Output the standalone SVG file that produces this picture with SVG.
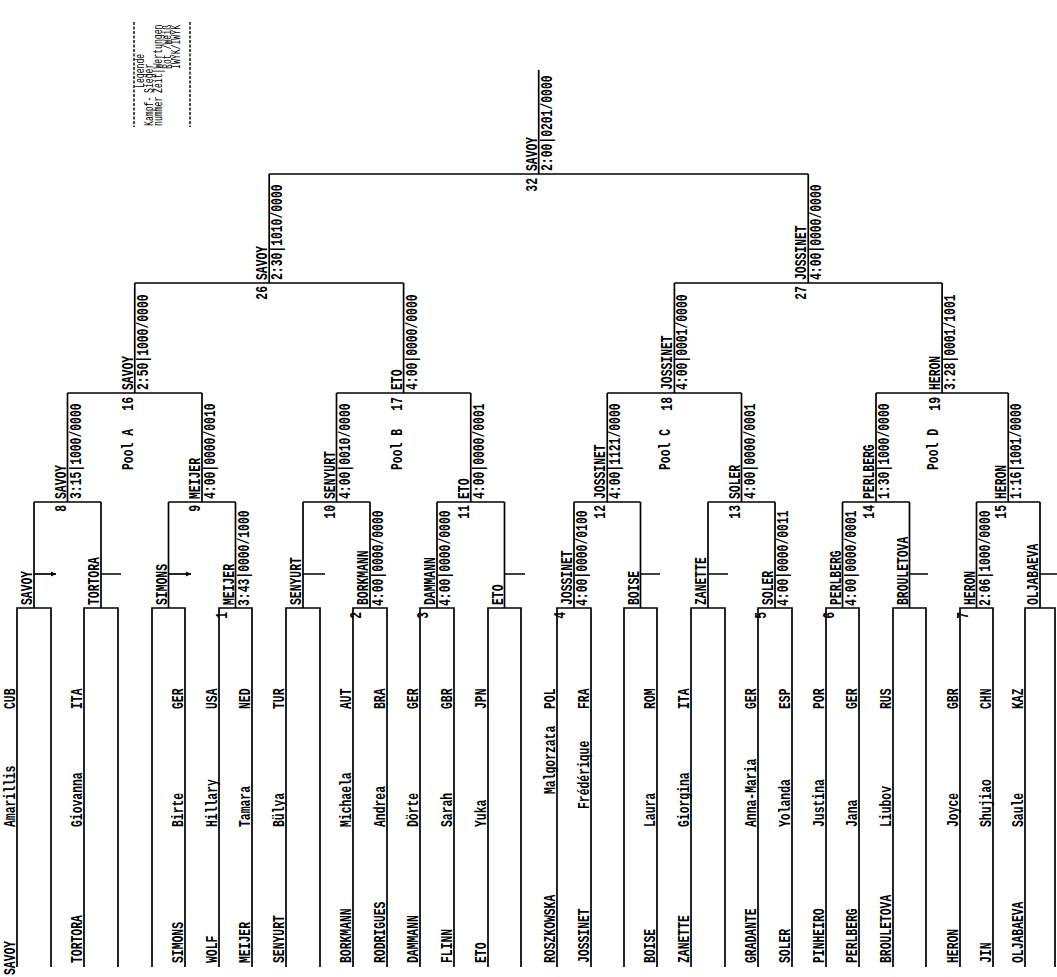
<svg xmlns="http://www.w3.org/2000/svg" width="1057" height="977" viewBox="0 0 1057 977">
<style>
.ln{stroke:#000;stroke-width:1.7;fill:none}
.tk{stroke:#000;stroke-width:1.7;fill:none}
.dl{stroke:#000;stroke-width:1.4;fill:none;stroke-dasharray:3 1.5}
text{font-family:"Liberation Mono","DejaVu Sans Mono",monospace;font-size:17px;font-weight:bold;fill:#000}
.e{text-anchor:end}
.lg{font-size:12px;font-weight:normal}
</style>
<defs>
<marker id="ar" markerUnits="userSpaceOnUse" markerWidth="6" markerHeight="6" refX="5" refY="3" orient="auto"><path d="M0,0.5 L5,3 L0,5.5 z" fill="#000"/></marker>
</defs>
<rect width="1057" height="977" fill="#fff"/>

<g id="legend">
<path class="dl" d="M134,22V127M190,22V127"/>
<text class="lg" transform="translate(144 88)rotate(-90)scale(.68 1)">Legende</text>
<text class="lg" transform="translate(153 126)rotate(-90)scale(.68 1)">Kampf-</text>
<text class="lg" transform="translate(153 93)rotate(-90)scale(.68 1)">Sieger</text>
<text class="lg" transform="translate(162 126)rotate(-90)scale(.68 1)">nummer</text>
<text class="lg" transform="translate(162 93)rotate(-90)scale(.68 1)">Zeit|Wertungen</text>
<text class="lg" transform="translate(171 69)rotate(-90)scale(.68 1)">Rot /Weiß</text>
<text class="lg" transform="translate(180 69)rotate(-90)scale(.68 1)">IWYK/IWYK</text>
</g>

<g id="connectors">
<path class="ln" d="M17,967V608H51V967M34,608V502 M84,967V608H118V967M101,608V502 M152,967V608H185V967M168.5,608V502 M219,967V608H252V967M235.5,608V502 M286,967V608H320V967M303,608V502 M353,967V608H387V967M370,608V502 M420,967V608H454V967M437,608V502 M488,967V608H521V967M504.5,608V502 M557,967V608H591V967M574,608V502 M624,967V608H657V967M640.5,608V502 M691,967V608H725V967M708,608V502 M758,967V608H792V967M775,608V502 M826,967V608H859V967M842.5,608V502 M893,967V608H926V967M909.5,608V502 M960,967V608H993V967M976.5,608V502 M1025,967V608H1055V967M1040,608V502"/>
<path class="ln" d="M34,502H101M67.5,502V393 M168.5,502H235.5M202,502V393 M303,502H370M336.5,502V393 M437,502H504.5M470.75,502V393 M574,502H640.5M607.25,502V393 M708,502H775M741.5,502V393 M842.5,502H909.5M876,502V393 M976.5,502H1040M1008.25,502V393"/>
<path class="ln" d="M67.5,393H202M134.75,393V283 M336.5,393H470.75M403.6,393V283 M607.25,393H741.5M674.4,393V283 M876,393H1008.25M942.1,393V283"/>
<path class="ln" d="M134.75,283H403.6M269.2,283V174 M674.4,283H942.1M808.25,283V174"/>
<path class="ln" d="M269.2,174H808.25M538.7,174V70"/>
<path class="tk" d="M34,574H56" marker-end="url(#ar)"/>
<path class="tk" d="M168.5,574H191" marker-end="url(#ar)"/>
<path class="tk" d="M101,574H121M303,574H325M504.5,574H525M640.5,574H660M708,574H728M909.5,574H928M1040,574H1057"/>
</g>

<g id="entries">
<g id="e-savoy"><text transform="translate(15 975)rotate(-90)scale(.67 1)">SAVOY</text><text transform="translate(15 827)rotate(-90)scale(.67 1)">Amarillis</text><text transform="translate(15 709)rotate(-90)scale(.67 1)">CUB</text></g>
<g id="e-tortora"><text transform="translate(82 963)rotate(-90)scale(.67 1)">TORTORA</text><text transform="translate(82 827)rotate(-90)scale(.67 1)">Giovanna</text><text transform="translate(82 709)rotate(-90)scale(.67 1)">ITA</text></g>
<g id="e-simons"><text transform="translate(183 963)rotate(-90)scale(.67 1)">SIMONS</text><text transform="translate(183 827)rotate(-90)scale(.67 1)">Birte</text><text transform="translate(183 709)rotate(-90)scale(.67 1)">GER</text></g>
<g id="e-wolf"><text transform="translate(217 963)rotate(-90)scale(.67 1)">WOLF</text><text transform="translate(217 827)rotate(-90)scale(.67 1)">Hillary</text><text transform="translate(217 709)rotate(-90)scale(.67 1)">USA</text></g>
<g id="e-meijer"><text transform="translate(250 963)rotate(-90)scale(.67 1)">MEIJER</text><text transform="translate(250 827)rotate(-90)scale(.67 1)">Tamara</text><text transform="translate(250 709)rotate(-90)scale(.67 1)">NED</text></g>
<g id="e-senyurt"><text transform="translate(284 963)rotate(-90)scale(.67 1)">SENYURT</text><text transform="translate(284 827)rotate(-90)scale(.67 1)">Bülya</text><text transform="translate(284 709)rotate(-90)scale(.67 1)">TUR</text></g>
<g id="e-borkmann"><text transform="translate(351 963)rotate(-90)scale(.67 1)">BORKMANN</text><text transform="translate(351 827)rotate(-90)scale(.67 1)">Michaela</text><text transform="translate(351 709)rotate(-90)scale(.67 1)">AUT</text></g>
<g id="e-rodrigues"><text transform="translate(385 963)rotate(-90)scale(.67 1)">RODRIGUES</text><text transform="translate(385 827)rotate(-90)scale(.67 1)">Andrea</text><text transform="translate(385 709)rotate(-90)scale(.67 1)">BRA</text></g>
<g id="e-dammann"><text transform="translate(418 963)rotate(-90)scale(.67 1)">DAMMANN</text><text transform="translate(418 827)rotate(-90)scale(.67 1)">Dörte</text><text transform="translate(418 709)rotate(-90)scale(.67 1)">GER</text></g>
<g id="e-flinn"><text transform="translate(452 963)rotate(-90)scale(.67 1)">FLINN</text><text transform="translate(452 827)rotate(-90)scale(.67 1)">Sarah</text><text transform="translate(452 709)rotate(-90)scale(.67 1)">GBR</text></g>
<g id="e-eto"><text transform="translate(486 963)rotate(-90)scale(.67 1)">ETO</text><text transform="translate(486 827)rotate(-90)scale(.67 1)">Yuka</text><text transform="translate(486 709)rotate(-90)scale(.67 1)">JPN</text></g>
<g id="e-roszkowska"><text transform="translate(555 963)rotate(-90)scale(.67 1)">ROSZKOWSKA</text><text transform="translate(555 794)rotate(-90)scale(.67 1)">Malgorzata</text><text transform="translate(555 709)rotate(-90)scale(.67 1)">POL</text></g>
<g id="e-jossinet"><text transform="translate(589 963)rotate(-90)scale(.67 1)">JOSSINET</text><text transform="translate(589 809)rotate(-90)scale(.67 1)">Frédérique</text><text transform="translate(589 709)rotate(-90)scale(.67 1)">FRA</text></g>
<g id="e-boise"><text transform="translate(655 963)rotate(-90)scale(.67 1)">BOISE</text><text transform="translate(655 827)rotate(-90)scale(.67 1)">Laura</text><text transform="translate(655 709)rotate(-90)scale(.67 1)">ROM</text></g>
<g id="e-zanette"><text transform="translate(689 963)rotate(-90)scale(.67 1)">ZANETTE</text><text transform="translate(689 827)rotate(-90)scale(.67 1)">Giorgina</text><text transform="translate(689 709)rotate(-90)scale(.67 1)">ITA</text></g>
<g id="e-gradante"><text transform="translate(756 963)rotate(-90)scale(.67 1)">GRADANTE</text><text transform="translate(756 827)rotate(-90)scale(.67 1)">Anna-Maria</text><text transform="translate(756 709)rotate(-90)scale(.67 1)">GER</text></g>
<g id="e-soler"><text transform="translate(790 963)rotate(-90)scale(.67 1)">SOLER</text><text transform="translate(790 827)rotate(-90)scale(.67 1)">Yolanda</text><text transform="translate(790 709)rotate(-90)scale(.67 1)">ESP</text></g>
<g id="e-pinheiro"><text transform="translate(824 963)rotate(-90)scale(.67 1)">PINHEIRO</text><text transform="translate(824 827)rotate(-90)scale(.67 1)">Justina</text><text transform="translate(824 709)rotate(-90)scale(.67 1)">POR</text></g>
<g id="e-perlberg"><text transform="translate(857 963)rotate(-90)scale(.67 1)">PERLBERG</text><text transform="translate(857 827)rotate(-90)scale(.67 1)">Jana</text><text transform="translate(857 709)rotate(-90)scale(.67 1)">GER</text></g>
<g id="e-brouletova"><text transform="translate(891 963)rotate(-90)scale(.67 1)">BROULETOVA</text><text transform="translate(891 827)rotate(-90)scale(.67 1)">Liubov</text><text transform="translate(891 709)rotate(-90)scale(.67 1)">RUS</text></g>
<g id="e-heron"><text transform="translate(958 963)rotate(-90)scale(.67 1)">HERON</text><text transform="translate(958 827)rotate(-90)scale(.67 1)">Joyce</text><text transform="translate(958 709)rotate(-90)scale(.67 1)">GBR</text></g>
<g id="e-jin"><text transform="translate(991 963)rotate(-90)scale(.67 1)">JIN</text><text transform="translate(991 827)rotate(-90)scale(.67 1)">Shujiao</text><text transform="translate(991 709)rotate(-90)scale(.67 1)">CHN</text></g>
<g id="e-oljabaeva"><text transform="translate(1023 963)rotate(-90)scale(.67 1)">OLJABAEVA</text><text transform="translate(1023 827)rotate(-90)scale(.67 1)">Saule</text><text transform="translate(1023 709)rotate(-90)scale(.67 1)">KAZ</text></g>
</g>

<g id="round2">
<g id="r2-savoy"><text transform="translate(32 605)rotate(-90)scale(.67 1)">SAVOY</text></g>
<g id="r2-tortora"><text transform="translate(99 605)rotate(-90)scale(.67 1)">TORTORA</text></g>
<g id="r2-simons"><text transform="translate(166.5 605)rotate(-90)scale(.67 1)">SIMONS</text></g>
<g id="m1"><text transform="translate(233.5 605)rotate(-90)scale(.67 1)">MEIJER</text><text transform="translate(248.5 606)rotate(-90)scale(.67 1)">3:43|0000/1000</text><text class="e" transform="translate(226.5 612)rotate(-90)scale(.67 1)">1</text></g>
<g id="r2-senyurt"><text transform="translate(301 605)rotate(-90)scale(.67 1)">SENYURT</text></g>
<g id="m2"><text transform="translate(368 605)rotate(-90)scale(.67 1)">BORKMANN</text><text transform="translate(383 606)rotate(-90)scale(.67 1)">4:00|0000/0000</text><text class="e" transform="translate(361 612)rotate(-90)scale(.67 1)">2</text></g>
<g id="m3"><text transform="translate(435 605)rotate(-90)scale(.67 1)">DAMMANN</text><text transform="translate(450 606)rotate(-90)scale(.67 1)">4:00|0000/0000</text><text class="e" transform="translate(428 612)rotate(-90)scale(.67 1)">3</text></g>
<g id="r2-eto"><text transform="translate(502.5 605)rotate(-90)scale(.67 1)">ETO</text></g>
<g id="m4"><text transform="translate(572 605)rotate(-90)scale(.67 1)">JOSSINET</text><text transform="translate(587 606)rotate(-90)scale(.67 1)">4:00|0000/0100</text><text class="e" transform="translate(565 612)rotate(-90)scale(.67 1)">4</text></g>
<g id="r2-boise"><text transform="translate(638.5 605)rotate(-90)scale(.67 1)">BOISE</text></g>
<g id="r2-zanette"><text transform="translate(706 605)rotate(-90)scale(.67 1)">ZANETTE</text></g>
<g id="m5"><text transform="translate(773 605)rotate(-90)scale(.67 1)">SOLER</text><text transform="translate(788 606)rotate(-90)scale(.67 1)">4:00|0000/0011</text><text class="e" transform="translate(766 612)rotate(-90)scale(.67 1)">5</text></g>
<g id="m6"><text transform="translate(840.5 605)rotate(-90)scale(.67 1)">PERLBERG</text><text transform="translate(855.5 606)rotate(-90)scale(.67 1)">4:00|0000/0001</text><text class="e" transform="translate(833.5 612)rotate(-90)scale(.67 1)">6</text></g>
<g id="r2-brouletova"><text transform="translate(907.5 605)rotate(-90)scale(.67 1)">BROULETOVA</text></g>
<g id="m7"><text transform="translate(974.5 605)rotate(-90)scale(.67 1)">HERON</text><text transform="translate(989.5 606)rotate(-90)scale(.67 1)">2:06|1000/0000</text><text class="e" transform="translate(967.5 612)rotate(-90)scale(.67 1)">7</text></g>
<g id="r2-oljabaeva"><text transform="translate(1038 605)rotate(-90)scale(.67 1)">OLJABAEVA</text></g>
</g>

<g id="round3">
<g id="m8"><text transform="translate(65.5 499)rotate(-90)scale(.67 1)">SAVOY</text><text transform="translate(80.5 499)rotate(-90)scale(.67 1)">3:15|1000/0000</text><text class="e" transform="translate(65.5 505)rotate(-90)scale(.67 1)">8</text></g>
<g id="m9"><text transform="translate(200 499)rotate(-90)scale(.67 1)">MEIJER</text><text transform="translate(215 499)rotate(-90)scale(.67 1)">4:00|0000/0010</text><text class="e" transform="translate(200 505)rotate(-90)scale(.67 1)">9</text></g>
<g id="m10"><text transform="translate(334.5 499)rotate(-90)scale(.67 1)">SENYURT</text><text transform="translate(349.5 499)rotate(-90)scale(.67 1)">4:00|0010/0000</text><text class="e" transform="translate(334.5 505)rotate(-90)scale(.67 1)">10</text></g>
<g id="m11"><text transform="translate(468.75 499)rotate(-90)scale(.67 1)">ETO</text><text transform="translate(483.75 499)rotate(-90)scale(.67 1)">4:00|0000/0001</text><text class="e" transform="translate(468.75 505)rotate(-90)scale(.67 1)">11</text></g>
<g id="m12"><text transform="translate(605.25 499)rotate(-90)scale(.67 1)">JOSSINET</text><text transform="translate(620.25 499)rotate(-90)scale(.67 1)">4:00|1121/0000</text><text class="e" transform="translate(605.25 505)rotate(-90)scale(.67 1)">12</text></g>
<g id="m13"><text transform="translate(739.5 499)rotate(-90)scale(.67 1)">SOLER</text><text transform="translate(754.5 499)rotate(-90)scale(.67 1)">4:00|0000/0001</text><text class="e" transform="translate(739.5 505)rotate(-90)scale(.67 1)">13</text></g>
<g id="m14"><text transform="translate(874 499)rotate(-90)scale(.67 1)">PERLBERG</text><text transform="translate(889 499)rotate(-90)scale(.67 1)">1:30|1000/0000</text><text class="e" transform="translate(874 505)rotate(-90)scale(.67 1)">14</text></g>
<g id="m15"><text transform="translate(1006.25 499)rotate(-90)scale(.67 1)">HERON</text><text transform="translate(1021.25 499)rotate(-90)scale(.67 1)">1:16|1001/0000</text><text class="e" transform="translate(1006.25 505)rotate(-90)scale(.67 1)">15</text></g>
</g>

<g id="round4">
<g id="m16"><text transform="translate(132.75 390)rotate(-90)scale(.67 1)">SAVOY</text><text transform="translate(147.75 390)rotate(-90)scale(.67 1)">2:50|1000/0000</text><text class="e" transform="translate(132.75 397)rotate(-90)scale(.67 1)">16</text><text transform="translate(132.75 470)rotate(-90)scale(.67 1)">Pool A</text></g>
<g id="m17"><text transform="translate(401.6 390)rotate(-90)scale(.67 1)">ETO</text><text transform="translate(416.6 390)rotate(-90)scale(.67 1)">4:00|0000/0000</text><text class="e" transform="translate(401.6 397)rotate(-90)scale(.67 1)">17</text><text transform="translate(401.6 470)rotate(-90)scale(.67 1)">Pool B</text></g>
<g id="m18"><text transform="translate(672.4 390)rotate(-90)scale(.67 1)">JOSSINET</text><text transform="translate(687.4 390)rotate(-90)scale(.67 1)">4:00|0001/0000</text><text class="e" transform="translate(672.4 397)rotate(-90)scale(.67 1)">18</text><text transform="translate(670.4 470)rotate(-90)scale(.67 1)">Pool C</text></g>
<g id="m19"><text transform="translate(940.1 390)rotate(-90)scale(.67 1)">HERON</text><text transform="translate(955.1 390)rotate(-90)scale(.67 1)">3:28|0001/1001</text><text class="e" transform="translate(940.1 397)rotate(-90)scale(.67 1)">19</text><text transform="translate(938.1 470)rotate(-90)scale(.67 1)">Pool D</text></g>
</g>

<g id="round5">
<g id="m26"><text transform="translate(267.2 280)rotate(-90)scale(.67 1)">SAVOY</text><text transform="translate(282.2 280)rotate(-90)scale(.67 1)">2:30|1010/0000</text><text class="e" transform="translate(267.2 286)rotate(-90)scale(.67 1)">26</text></g>
<g id="m27"><text transform="translate(806.25 280)rotate(-90)scale(.67 1)">JOSSINET</text><text transform="translate(821.25 280)rotate(-90)scale(.67 1)">4:00|0000/0000</text><text class="e" transform="translate(806.25 286)rotate(-90)scale(.67 1)">27</text></g>
</g>

<g id="final">
<g id="m32"><text transform="translate(536.7 171)rotate(-90)scale(.67 1)">SAVOY</text><text transform="translate(551.7 171)rotate(-90)scale(.67 1)">2:00|0201/0000</text><text class="e" transform="translate(536.7 178)rotate(-90)scale(.67 1)">32</text></g>
</g>
</svg>
